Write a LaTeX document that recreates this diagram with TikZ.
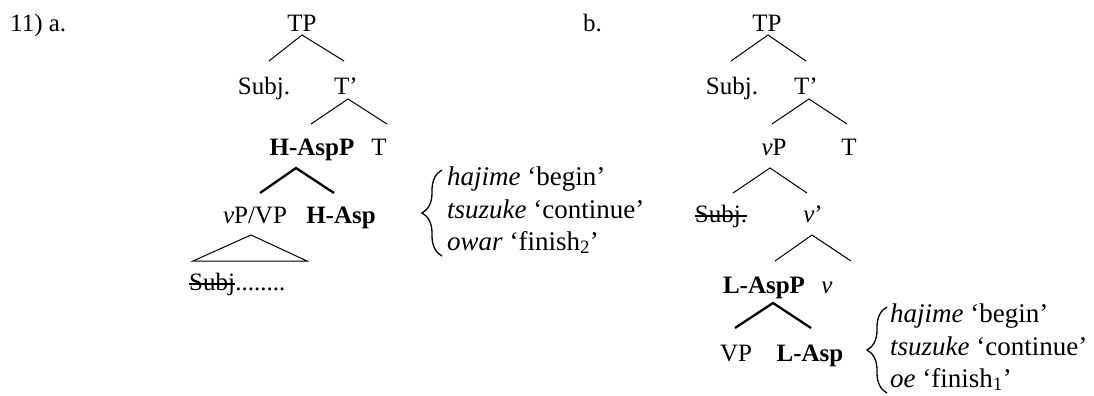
\documentclass[tikz,border=0pt]{standalone}
\usepackage{fontspec}
\setmainfont{Liberation Serif}
\usetikzlibrary{decorations.pathreplacing}
\begin{document}
\begin{tikzpicture}[x=1bp,y=-1bp,
  lbl/.style={anchor=base,inner sep=0pt,font=\fontsize{25bp}{30bp}\selectfont},
  gl/.style={anchor=base west,inner sep=0pt,font=\fontsize{25bp}{30bp}\selectfont},
  gloss/.style={anchor=base west,inner sep=0pt,font=\fontsize{27bp}{32bp}\selectfont},
  thinedge/.style={line width=1bp},
  boldedge/.style={line width=2.3bp},
  strike/.style={line width=1.4bp},
  brc/.style={line width=1.3bp,decorate,decoration={brace,amplitude=20bp,aspect=0.5}}]
\useasboundingbox (0,0) rectangle (1094,395);

% ---------- tree a ----------
\node[gl] (numa) at (10,31) {11) a.};
\node[lbl] (tpa) at (302,31) {TP};
\node[lbl] (subja) at (264,94) {Subj.};
\node[lbl] (tba) at (346,94) {T’};
\node[lbl] (haspp) at (312,155) {\textbf{H-AspP}};
\node[lbl] (ta) at (379,155) {T};
\node[lbl] (vpvp) at (255,223) {\textit{v}P/VP};
\node[lbl] (hasp) at (341,223) {\textbf{H-Asp}};
\node[gl] (subjs) at (189,290) {Subj};
\node[gl] (dots) at (subjs.base east) {........};
\draw[strike] ([yshift=6bp]subjs.base west) -- ([yshift=6bp]subjs.base east);

\coordinate (a1t) at (302,35); \coordinate (a1l) at (269,61); \coordinate (a1r) at (344,61);
\coordinate (a2t) at (348,99); \coordinate (a2l) at (311,124); \coordinate (a2r) at (387,124);
\coordinate (a3t) at (296,168); \coordinate (a3l) at (260,193); \coordinate (a3r) at (334,193);
\coordinate (a4t) at (251,235); \coordinate (a4l) at (193,261); \coordinate (a4r) at (307,261);
\draw[thinedge] (a1l) -- (a1t) -- (a1r);
\draw[thinedge] (a2l) -- (a2t) -- (a2r);
\draw[boldedge] (a3l) -- (a3t) -- (a3r);
\draw[thinedge,line join=miter] (a4t) -- (a4l) -- (a4r) -- cycle;

\coordinate (bra-b) at (442,256); \coordinate (bra-t) at (442,170);
\draw[brc] (bra-b) -- (bra-t);
\node[gloss] (ha1) at (447,185) {\textit{hajime} ‘begin’};
\node[gloss] (ts1) at (447,218) {\textit{tsuzuke} ‘continue’};
\node[gloss] (ow1) at (447,250) {\textit{owar} ‘finish\textsubscript{2}’};

% ---------- tree b ----------
\node[gl] (numb) at (583,31) {b.};
\node[lbl] (tpb) at (767,31) {TP};
\node[lbl] (subjb) at (732,94) {Subj.};
\node[lbl] (tbb) at (806,94) {T’};
\node[lbl] (vpb) at (774,155) {\textit{v}P};
\node[lbl] (tb) at (849,155) {T};
\node[lbl] (subjsb) at (721,222) {Subj.};
\draw[strike] ([yshift=6bp]subjsb.base west) -- ([yshift=6bp]subjsb.base east);
\node[lbl] (vbar) at (813,222) {\textit{v}’};
\node[lbl] (laspp) at (764,293) {\textbf{L-AspP}};
\node[lbl] (vb) at (827,293) {\textit{v}};
\node[lbl] (vp) at (736,361) {VP};
\node[lbl] (lasp) at (810,361) {\textbf{L-Asp}};

\coordinate (b1t) at (768,35); \coordinate (b1l) at (731,61); \coordinate (b1r) at (806,61);
\coordinate (b2t) at (809,99); \coordinate (b2l) at (772,124); \coordinate (b2r) at (847,124);
\coordinate (b3t) at (770,168); \coordinate (b3l) at (733,193); \coordinate (b3r) at (807,193);
\coordinate (b4t) at (812,235); \coordinate (b4l) at (775,261); \coordinate (b4r) at (851,261);
\coordinate (b5t) at (773,303); \coordinate (b5l) at (735,328); \coordinate (b5r) at (811,328);
\draw[thinedge] (b1l) -- (b1t) -- (b1r);
\draw[thinedge] (b2l) -- (b2t) -- (b2r);
\draw[thinedge] (b3l) -- (b3t) -- (b3r);
\draw[thinedge] (b4l) -- (b4t) -- (b4r);
\draw[boldedge] (b5l) -- (b5t) -- (b5r);

\coordinate (brb-b) at (887,393); \coordinate (brb-t) at (887,307);
\draw[brc] (brb-b) -- (brb-t);
\node[gloss] (ha2) at (890,322) {\textit{hajime} ‘begin’};
\node[gloss] (ts2) at (890,355) {\textit{tsuzuke} ‘continue’};
\node[gloss] (oe2) at (890,387) {\textit{oe} ‘finish\textsubscript{1}’};
\end{tikzpicture}
\end{document}
